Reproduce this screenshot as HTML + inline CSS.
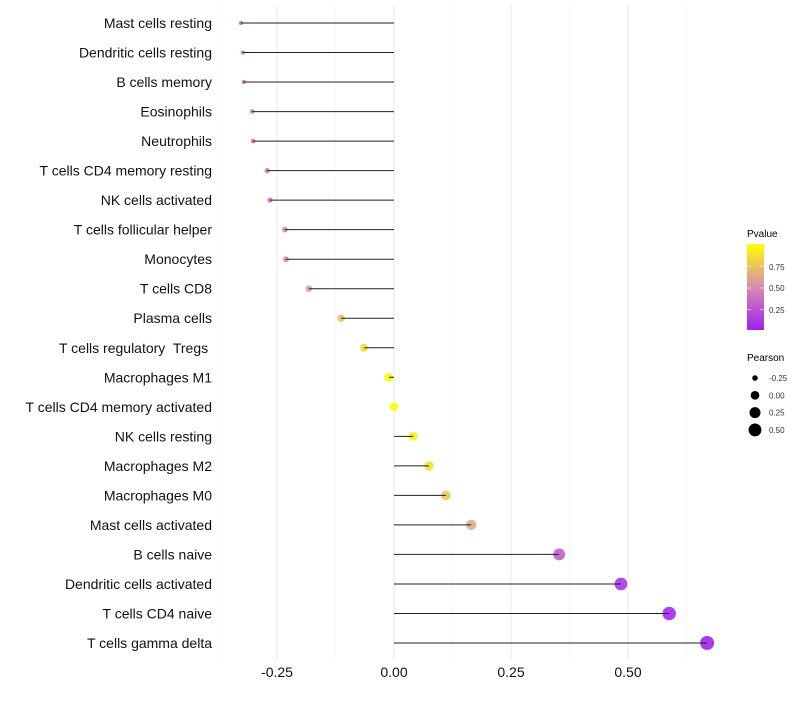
<!DOCTYPE html>
<html><head><meta charset="utf-8"><style>
body{margin:0;background:#fff;font-family:"Liberation Sans",sans-serif;}
</style></head><body>
<svg id="chart" width="800" height="700" xmlns="http://www.w3.org/2000/svg">
<defs>
<linearGradient id="pgrad" x1="0" y1="1" x2="0" y2="0">
<stop offset="0" stop-color="#A020F0"/>
<stop offset="0.5" stop-color="#D88CB0"/>
<stop offset="1" stop-color="#FFFF00"/>
</linearGradient>
</defs>
<g id="grid"></g>
<g id="marks"></g>
<g id="ylabels"></g>
<g id="xlabels"></g>
<g>
<text x="747" y="237" font-size="10" fill="#000">Pvalue</text>
<rect x="747" y="244" width="17" height="86" fill="url(#pgrad)"/>
<line x1="747" y1="266.5" x2="751" y2="266.5" stroke="#fff" opacity="0.6"/><line x1="760" y1="266.5" x2="764" y2="266.5" stroke="#fff" opacity="0.6"/>
<line x1="747" y1="288" x2="751" y2="288" stroke="#fff" opacity="0.6"/><line x1="760" y1="288" x2="764" y2="288" stroke="#fff" opacity="0.6"/>
<line x1="747" y1="309.5" x2="751" y2="309.5" stroke="#fff" opacity="0.6"/><line x1="760" y1="309.5" x2="764" y2="309.5" stroke="#fff" opacity="0.6"/>
<text x="769" y="270" font-size="8" fill="#333">0.75</text>
<text x="769" y="291" font-size="8" fill="#333">0.50</text>
<text x="769" y="313" font-size="8" fill="#333">0.25</text>
</g>
<g id="sizeleg">
<text x="747" y="361" font-size="10" fill="#000">Pearson</text>
</g>
</svg>
<script>
const cellTypes=["Mast cells resting","Dendritic cells resting","B cells memory","Eosinophils","Neutrophils","T cells CD4 memory resting","NK cells activated","T cells follicular helper","Monocytes","T cells CD8","Plasma cells","T cells regulatory  Tregs ","Macrophages M1","T cells CD4 memory activated","NK cells resting","Macrophages M2","Macrophages M0","Mast cells activated","B cells naive","Dendritic cells activated","T cells CD4 naive","T cells gamma delta"];
const pearson=[-0.327,-0.323,-0.321,-0.303,-0.301,-0.271,-0.265,-0.233,-0.231,-0.182,-0.113,-0.064,-0.011,0.0,0.041,0.075,0.111,0.165,0.353,0.485,0.588,0.669];
const pvalue=[0.35,0.36,0.36,0.38,0.38,0.42,0.42,0.48,0.48,0.58,0.74,0.84,0.97,1.0,0.94,0.88,0.75,0.62,0.3,0.1,0.05,0.02];
const xTicks=[-0.25,0,0.25,0.5];
const xTickLabels=["-0.25","0.00","0.25","0.50"];
const legendVals=[-0.25,0,0.25,0.5];
const legendLabels=["-0.25","0.00","0.25","0.50"];

const NS="http://www.w3.org/2000/svg";
const xs=v=>394+v*468;
const ys=i=>23+i*(620/21);
const rs=v=>Math.sqrt(Math.max(1,18.85+45*v));
function lerp(a,b,t){return a.map((x,k)=>Math.round(x+(b[k]-x)*t));}
function col(p){const c0=[160,32,240],c1=[216,140,176],c2=[255,255,0];
 const c=p<0.5?lerp(c0,c1,p/0.5):lerp(c1,c2,(p-0.5)/0.5);return `rgb(${c})`;}
function mk(tag,attrs,parent){const e=document.createElementNS(NS,tag);for(const k in attrs)e.setAttribute(k,attrs[k]);parent.appendChild(e);return e;}
const grid=document.getElementById('grid');
for(let v=-0.375;v<=0.63;v+=0.125){
 const major=Math.abs((v/0.25)-Math.round(v/0.25))<1e-6;
 const l=mk('line',{x1:xs(v),x2:xs(v),y1:5,y2:660,stroke:major?'#ebebeb':'#f4f4f4','stroke-width':major?1.1:0.6},grid);
 
 
}
const marks=document.getElementById('marks'),yl=document.getElementById('ylabels'),xl=document.getElementById('xlabels');
cellTypes.forEach((n,i)=>{
 const y=ys(i);
 const c=mk('circle',{cx:xs(pearson[i]),cy:y,r:rs(pearson[i]),fill:col(pvalue[i]),'fill-opacity':0.9},marks);
 
 
 const l=mk('line',{x1:xs(0),x2:xs(pearson[i]),y1:y,y2:y,stroke:'#222','stroke-width':1},marks);
 
 
 const t=mk('text',{x:212,y:y+5,'text-anchor':'end','font-size':14,fill:'#111','xml:space':'preserve',style:'white-space:pre'},yl);
 t.textContent=n;
 
 
});
xTicks.forEach((v,i)=>{
 const t=mk('text',{x:xs(v),y:677,'text-anchor':'middle','font-size':14,fill:'#111'},xl);
 t.textContent=xTickLabels[i];
 
 
});
const sl=document.getElementById('sizeleg');
legendVals.forEach((v,i)=>{
 const y=378+i*17.3;
 const c=mk('circle',{cx:755,cy:y,r:rs(v),fill:'#000'},sl);
 
 
 const t=mk('text',{x:769,y:y+3,'font-size':8,fill:'#333'},sl);
 t.textContent=legendLabels[i];
 
 
});
</script>
</body></html>
